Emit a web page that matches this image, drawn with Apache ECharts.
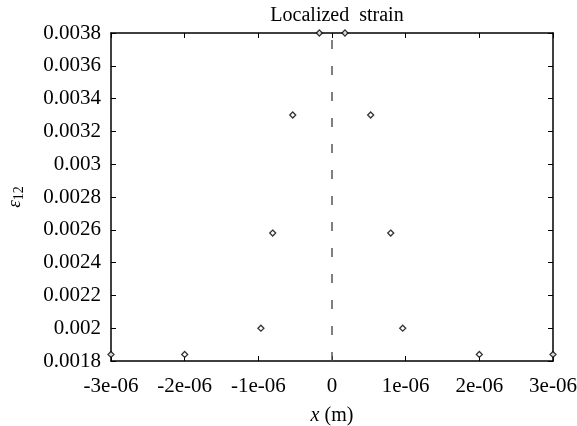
<!DOCTYPE html>
<html>
<head>
<meta charset="utf-8">
<script src="https://cdn.jsdelivr.net/npm/echarts@6/dist/echarts.min.js"></script>
<style>
  html, body { margin: 0; padding: 0; background: #fff; }
  #chart { width: 577px; height: 426px; }
</style>
</head>
<body>
<div id="chart"></div>
<script>
// strain points (x in m, eps12)
var xs = [-3e-6, -2e-6, -0.965e-6, -0.805e-6, -0.533e-6, -0.172e-6, 0.176e-6, 0.525e-6, 0.797e-6, 0.96e-6, 2e-6, 3e-6];
var eps = [0.00184, 0.00184, 0.0020, 0.00258, 0.0033, 0.0038, 0.0038, 0.0033, 0.00258, 0.0020, 0.00184, 0.00184];

// axes
var xRange = [-3e-6, 3e-6];
var yRange = [0.0018, 0.0038];
var centerLine = [[0, 0.0018], [0, 0.0038]];

var font = 'Liberation Serif, Times New Roman, serif';

function fmtX(v) {
    var k = Math.round(v * 1e6);
    if (k === 0) return '0';
    return k + 'e-06';
}
function fmtY(v) {
    return String(parseFloat(v.toFixed(4)));
}

var pts = [];
for (var i = 0; i < xs.length; i++) pts.push([xs[i], eps[i]]);

var tickStyle = { show: true, inside: true, length: 5, lineStyle: { color: '#000', width: 1 } };
var lineStyle = { show: true, onZero: false, lineStyle: { color: '#000', width: 1.5 } };

var option = {
    backgroundColor: '#fff',
    animation: false,
    title: {
        text: 'Localized  strain',
        left: 332, top: 1, textAlign: 'center',
        textStyle: { fontFamily: font, fontSize: 20, fontWeight: 'normal', color: '#000' }
    },
    grid: { left: 111, right: 24, top: 33, bottom: 65, containLabel: false, outerBoundsMode: 'none' },
    xAxis: [{
        type: 'value', min: xRange[0], max: xRange[1], interval: 1e-6,
        axisLine: lineStyle, axisTick: tickStyle, splitLine: { show: false },
        axisLabel: { formatter: fmtX, fontFamily: font, fontSize: 21, color: '#000', margin: 15 },
        name: '{i|x} (m)', nameLocation: 'middle', nameGap: 45,
        nameTextStyle: {
            fontFamily: font, fontSize: 20, color: '#000',
            rich: { i: { fontFamily: font, fontSize: 20, fontStyle: 'italic', color: '#000' } }
        }
    }, {
        type: 'value', position: 'top', min: xRange[0], max: xRange[1], interval: 1e-6,
        axisLine: lineStyle, axisTick: tickStyle, axisLabel: { show: false }, splitLine: { show: false }
    }],
    yAxis: [{
        type: 'value', min: yRange[0], max: yRange[1], interval: 0.0002,
        axisLine: lineStyle, axisTick: tickStyle, splitLine: { show: false },
        axisLabel: { formatter: fmtY, fontFamily: font, fontSize: 21, color: '#000', margin: 10 },
        name: '{e|ε}{s|12}', nameLocation: 'middle', nameGap: 85,
        nameTextStyle: {
            fontFamily: font, fontSize: 19, color: '#000',
            rich: {
                e: { fontFamily: font, fontSize: 19, fontStyle: 'italic', color: '#000' },
                s: { fontFamily: font, fontSize: 14, color: '#000', verticalAlign: 'bottom', padding: [8, 0, 0, 0] }
            }
        }
    }, {
        type: 'value', position: 'right', min: yRange[0], max: yRange[1], interval: 0.0002,
        axisLine: lineStyle, axisTick: tickStyle, axisLabel: { show: false }, splitLine: { show: false }
    }],
    series: [{
        type: 'line',
        data: centerLine,
        symbol: 'none',
        lineStyle: { color: '#555', width: 1.5, type: [9, 17] },
        z: 1
    }, {
        type: 'scatter',
        data: pts,
        symbol: 'diamond',
        symbolSize: 6,
        clip: false,
        itemStyle: { color: '#fff', borderColor: '#000', borderWidth: 1.3 },
        z: 3
    }]
};

var myChart = echarts.init(document.getElementById('chart'));
myChart.setOption(option);
</script>
</body>
</html>
